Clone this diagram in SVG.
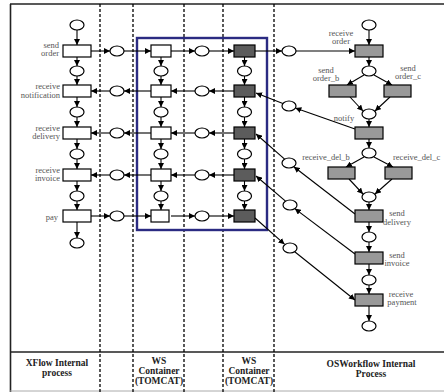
<svg xmlns="http://www.w3.org/2000/svg" width="444" height="392" viewBox="0 0 444 392">
<defs>
<marker id="ah" markerUnits="userSpaceOnUse" markerWidth="6" markerHeight="6" refX="6" refY="3" orient="auto"><path d="M0,0 L6,3 L0,6 z" fill="#000"/></marker>
<style>
.frame{stroke:#222;stroke-width:1.6;fill:none}
.dash{stroke:#000;stroke-width:1.3;stroke-dasharray:3 2;fill:none}
.pl{fill:#fff;stroke:#000;stroke-width:1.2}
.tw{fill:#fff;stroke:#000;stroke-width:1.2}
.td{fill:#5c5c5c;stroke:#000;stroke-width:1.2}
.tg{fill:#999;stroke:#000;stroke-width:1.2}
.c line{stroke:#000;stroke-width:1.1;marker-end:url(#ah)}
.lb{font-family:"Liberation Serif",serif;font-size:8.5px;fill:#555}
.hd{font-family:"Liberation Serif",serif;font-size:9.5px;font-weight:bold;fill:#222;text-anchor:middle}
</style>
</defs>
<rect width="444" height="392" fill="#fff"/>
<g id="frame">
<line class="frame" x1="10" y1="4" x2="444" y2="4"/>
<line class="frame" x1="10.5" y1="4" x2="10.5" y2="392"/>
<line class="frame" x1="10" y1="352" x2="444" y2="352"/>
<line x1="10" y1="391" x2="444" y2="391" stroke="#aaa" stroke-width="1"/>
<line class="dash" x1="100" y1="4" x2="100" y2="392"/>
<line class="dash" x1="133" y1="4" x2="133" y2="392"/>
<line class="dash" x1="184" y1="4" x2="184" y2="392"/>
<line class="dash" x1="223" y1="4" x2="223" y2="392"/>
<line class="dash" x1="274" y1="4" x2="274" y2="392"/>
<rect x="137" y="38" width="130" height="192" fill="none" stroke="#2b2b82" stroke-width="2.4"/>
</g>
<g id="headers">
<text class="hd" x="57" y="366">XFlow Internal</text>
<text class="hd" x="57" y="376">process</text>
<text class="hd" x="159" y="364" font-size="9">WS</text>
<text class="hd" x="159" y="374" font-size="9">Container</text>
<text class="hd" x="159" y="384" font-size="9">(TOMCAT)</text>
<text class="hd" x="249" y="364" font-size="9">WS</text>
<text class="hd" x="249" y="374" font-size="9">Container</text>
<text class="hd" x="249" y="384" font-size="9">(TOMCAT)</text>
<text class="hd" x="371" y="367">OSWorkflow Internal</text>
<text class="hd" x="371" y="377">Process</text>
</g>
<g id="connectors" class="c">
<line x1="77" y1="30" x2="77" y2="45"/>
<line x1="77" y1="57" x2="77" y2="66"/>
<line x1="77" y1="76" x2="77" y2="85"/>
<line x1="77" y1="97" x2="77" y2="107"/>
<line x1="77" y1="117" x2="77" y2="127"/>
<line x1="77" y1="139" x2="77" y2="149"/>
<line x1="77" y1="159" x2="77" y2="169"/>
<line x1="77" y1="181" x2="77" y2="191"/>
<line x1="77" y1="201" x2="77" y2="210"/>
<line x1="77" y1="222" x2="77" y2="238"/>
<line x1="161" y1="57" x2="161" y2="66"/>
<line x1="161" y1="76" x2="161" y2="85"/>
<line x1="161" y1="97" x2="161" y2="107"/>
<line x1="161" y1="117" x2="161" y2="127"/>
<line x1="161" y1="139" x2="161" y2="149"/>
<line x1="161" y1="159" x2="161" y2="169"/>
<line x1="161" y1="181" x2="161" y2="191"/>
<line x1="161" y1="201" x2="161" y2="210"/>
<line x1="244.5" y1="57" x2="244.5" y2="66"/>
<line x1="244.5" y1="76" x2="244.5" y2="85"/>
<line x1="244.5" y1="97" x2="244.5" y2="107"/>
<line x1="244.5" y1="117" x2="244.5" y2="127"/>
<line x1="244.5" y1="139" x2="244.5" y2="149"/>
<line x1="244.5" y1="159" x2="244.5" y2="169"/>
<line x1="244.5" y1="181" x2="244.5" y2="191"/>
<line x1="244.5" y1="201" x2="244.5" y2="210"/>
<line x1="91" y1="51" x2="110" y2="51"/>
<line x1="124" y1="51" x2="151" y2="51"/>
<line x1="171" y1="51" x2="195" y2="51"/>
<line x1="209" y1="51" x2="234" y2="51"/>
<line x1="255" y1="51" x2="282" y2="51"/>
<line x1="296" y1="51" x2="355" y2="51"/>
<line x1="234" y1="91" x2="209" y2="91"/>
<line x1="195" y1="91" x2="171" y2="91"/>
<line x1="151" y1="91" x2="124" y2="91"/>
<line x1="110" y1="91" x2="91" y2="91"/>
<line x1="234" y1="133" x2="209" y2="133"/>
<line x1="195" y1="133" x2="171" y2="133"/>
<line x1="151" y1="133" x2="124" y2="133"/>
<line x1="110" y1="133" x2="91" y2="133"/>
<line x1="234" y1="175" x2="209" y2="175"/>
<line x1="195" y1="175" x2="171" y2="175"/>
<line x1="151" y1="175" x2="124" y2="175"/>
<line x1="110" y1="175" x2="91" y2="175"/>
<line x1="91" y1="216" x2="110" y2="216"/>
<line x1="124" y1="216" x2="151" y2="216"/>
<line x1="171" y1="216" x2="195" y2="216"/>
<line x1="209" y1="216" x2="234" y2="216"/>
<line x1="369" y1="30" x2="369" y2="45"/>
<line x1="369" y1="57" x2="369" y2="66"/>
<line x1="364" y1="75" x2="347" y2="85"/>
<line x1="374" y1="75" x2="392" y2="85"/>
<line x1="350" y1="97" x2="363" y2="111"/>
<line x1="390" y1="97" x2="375" y2="111"/>
<line x1="369" y1="119" x2="369" y2="127"/>
<line x1="369" y1="139" x2="369" y2="148"/>
<line x1="364" y1="157" x2="346" y2="167"/>
<line x1="374" y1="157" x2="393" y2="167"/>
<line x1="349" y1="179" x2="363" y2="194"/>
<line x1="392" y1="179" x2="375" y2="194"/>
<line x1="369" y1="202" x2="369" y2="210"/>
<line x1="369" y1="222" x2="369" y2="232"/>
<line x1="369" y1="242" x2="369" y2="252"/>
<line x1="369" y1="264" x2="369" y2="275"/>
<line x1="369" y1="285" x2="369" y2="294"/>
<line x1="369" y1="306" x2="369" y2="321"/>
<line x1="355" y1="129" x2="295.3" y2="108.1"/>
<line x1="282.9" y1="103.6" x2="256" y2="93"/>
<line x1="355" y1="214" x2="293.8" y2="166.7"/>
<line x1="284.6" y1="159.1" x2="256" y2="134"/>
<line x1="355" y1="254" x2="294.8" y2="208.6"/>
<line x1="285.5" y1="201.2" x2="256" y2="176"/>
<line x1="255" y1="218" x2="284.5" y2="244.2"/>
<line x1="294.7" y1="251.7" x2="355" y2="300"/>
</g>
<g id="xflow">
<ellipse class="pl" cx="77" cy="25" rx="7" ry="5"/>
<g id="send_order"><rect class="tw" x="63" y="45" width="28" height="12"/><text class="lb" x="59" y="47.5" text-anchor="end">send</text><text class="lb" x="59" y="56" text-anchor="end">order</text></g>
<ellipse class="pl" cx="77" cy="71" rx="7" ry="5"/>
<g id="receive_notification"><rect class="tw" x="63" y="85" width="28" height="12"/><text class="lb" x="60" y="89" text-anchor="end">receive</text><text class="lb" x="60" y="97.5" text-anchor="end">notification</text></g>
<ellipse class="pl" cx="77" cy="112" rx="7" ry="5"/>
<g id="receive_delivery"><rect class="tw" x="63" y="127" width="28" height="12"/><text class="lb" x="60" y="130.5" text-anchor="end">receive</text><text class="lb" x="60" y="139" text-anchor="end">delivery</text></g>
<ellipse class="pl" cx="77" cy="154" rx="7" ry="5"/>
<g id="receive_invoice"><rect class="tw" x="63" y="169" width="28" height="12"/><text class="lb" x="60" y="172.5" text-anchor="end">receive</text><text class="lb" x="60" y="181" text-anchor="end">invoice</text></g>
<ellipse class="pl" cx="77" cy="196" rx="7" ry="5"/>
<g id="pay"><rect class="tw" x="63" y="210" width="28" height="12"/><text class="lb" x="58" y="219.5" text-anchor="end">pay</text></g>
<ellipse class="pl" cx="77" cy="243" rx="7" ry="5"/>
</g>
<g id="channel1">
<ellipse class="pl" cx="117" cy="51" rx="7" ry="5"/>
<ellipse class="pl" cx="117" cy="91" rx="7" ry="5"/>
<ellipse class="pl" cx="117" cy="133" rx="7" ry="5"/>
<ellipse class="pl" cx="117" cy="175" rx="7" ry="5"/>
<ellipse class="pl" cx="117" cy="216" rx="7" ry="5"/>
</g>
<g id="ws1">
<rect class="tw" x="151" y="45" width="20" height="12"/>
<rect class="tw" x="151" y="85" width="20" height="12"/>
<rect class="tw" x="151" y="127" width="20" height="12"/>
<rect class="tw" x="151" y="169" width="20" height="12"/>
<rect class="tw" x="151" y="210" width="18" height="12"/>
<ellipse class="pl" cx="161" cy="71" rx="7" ry="5"/>
<ellipse class="pl" cx="161" cy="112" rx="7" ry="5"/>
<ellipse class="pl" cx="161" cy="154" rx="7" ry="5"/>
<ellipse class="pl" cx="161" cy="196" rx="7" ry="5"/>
</g>
<g id="channel2">
<ellipse class="pl" cx="202" cy="51" rx="7" ry="5"/>
<ellipse class="pl" cx="202" cy="91" rx="7" ry="5"/>
<ellipse class="pl" cx="202" cy="133" rx="7" ry="5"/>
<ellipse class="pl" cx="202" cy="175" rx="7" ry="5"/>
<ellipse class="pl" cx="202" cy="216" rx="7" ry="5"/>
</g>
<g id="ws2">
<rect class="td" x="234" y="45" width="21" height="12"/>
<rect class="td" x="234" y="85" width="21" height="12"/>
<rect class="td" x="234" y="127" width="21" height="12"/>
<rect class="td" x="234" y="169" width="21" height="12"/>
<rect class="td" x="234" y="210" width="21" height="12"/>
<ellipse class="pl" cx="244.5" cy="71" rx="7" ry="5"/>
<ellipse class="pl" cx="244.5" cy="112" rx="7" ry="5"/>
<ellipse class="pl" cx="244.5" cy="154" rx="7" ry="5"/>
<ellipse class="pl" cx="244.5" cy="196" rx="7" ry="5"/>
</g>
<g id="channel3">
<ellipse class="pl" cx="289" cy="51" rx="7" ry="5"/>
<ellipse class="pl" cx="289" cy="106" rx="7" ry="5"/>
<ellipse class="pl" cx="289" cy="163" rx="7" ry="5"/>
<ellipse class="pl" cx="290" cy="205" rx="7" ry="5"/>
<ellipse class="pl" cx="290" cy="248" rx="7" ry="5"/>
</g>
<g id="osworkflow">
<ellipse class="pl" cx="369" cy="25" rx="7" ry="5"/>
<g id="receive_order"><rect class="tg" x="355" y="45" width="28" height="12"/><text class="lb" x="341" y="35.5" text-anchor="middle">receive</text><text class="lb" x="341" y="44" text-anchor="middle">order</text></g>
<ellipse class="pl" cx="369" cy="71" rx="7" ry="5"/>
<g id="send_order_b"><rect class="tg" x="329" y="85" width="27" height="12"/><text class="lb" x="326" y="72.5" text-anchor="middle">send</text><text class="lb" x="326" y="81" text-anchor="middle">order_b</text></g>
<g id="send_order_c"><rect class="tg" x="384" y="85" width="27" height="12"/><text class="lb" x="408" y="70.5" text-anchor="middle">send</text><text class="lb" x="408" y="79" text-anchor="middle">order_c</text></g>
<ellipse class="pl" cx="369" cy="114" rx="7" ry="5"/>
<g id="notify"><rect class="tg" x="355" y="127" width="28" height="12"/><text class="lb" x="344" y="121" text-anchor="middle">notify</text></g>
<ellipse class="pl" cx="369" cy="153" rx="7" ry="5"/>
<g id="receive_del_b"><rect class="tg" x="328" y="167" width="27" height="12"/><text class="lb" x="326" y="160" text-anchor="middle">receive_del_b</text></g>
<g id="receive_del_c"><rect class="tg" x="385" y="167" width="27" height="12"/><text class="lb" x="393" y="160">receive_del_c</text></g>
<ellipse class="pl" cx="369" cy="197" rx="7" ry="5"/>
<g id="send_delivery"><rect class="tg" x="355" y="210" width="28" height="12"/><text class="lb" x="397" y="216" text-anchor="middle">send</text><text class="lb" x="397" y="225" text-anchor="middle">delivery</text></g>
<ellipse class="pl" cx="369" cy="237" rx="7" ry="5"/>
<g id="send_invoice"><rect class="tg" x="355" y="252" width="28" height="12"/><text class="lb" x="397" y="257.5" text-anchor="middle">send</text><text class="lb" x="397" y="266" text-anchor="middle">invoice</text></g>
<ellipse class="pl" cx="369" cy="280" rx="7" ry="5"/>
<g id="receive_payment"><rect class="tg" x="355" y="294" width="28" height="12"/><text class="lb" x="401" y="296.5" text-anchor="middle">receive</text><text class="lb" x="402" y="305" text-anchor="middle">payment</text></g>
<ellipse class="pl" cx="369" cy="326" rx="7" ry="5"/>
</g>
</svg>
